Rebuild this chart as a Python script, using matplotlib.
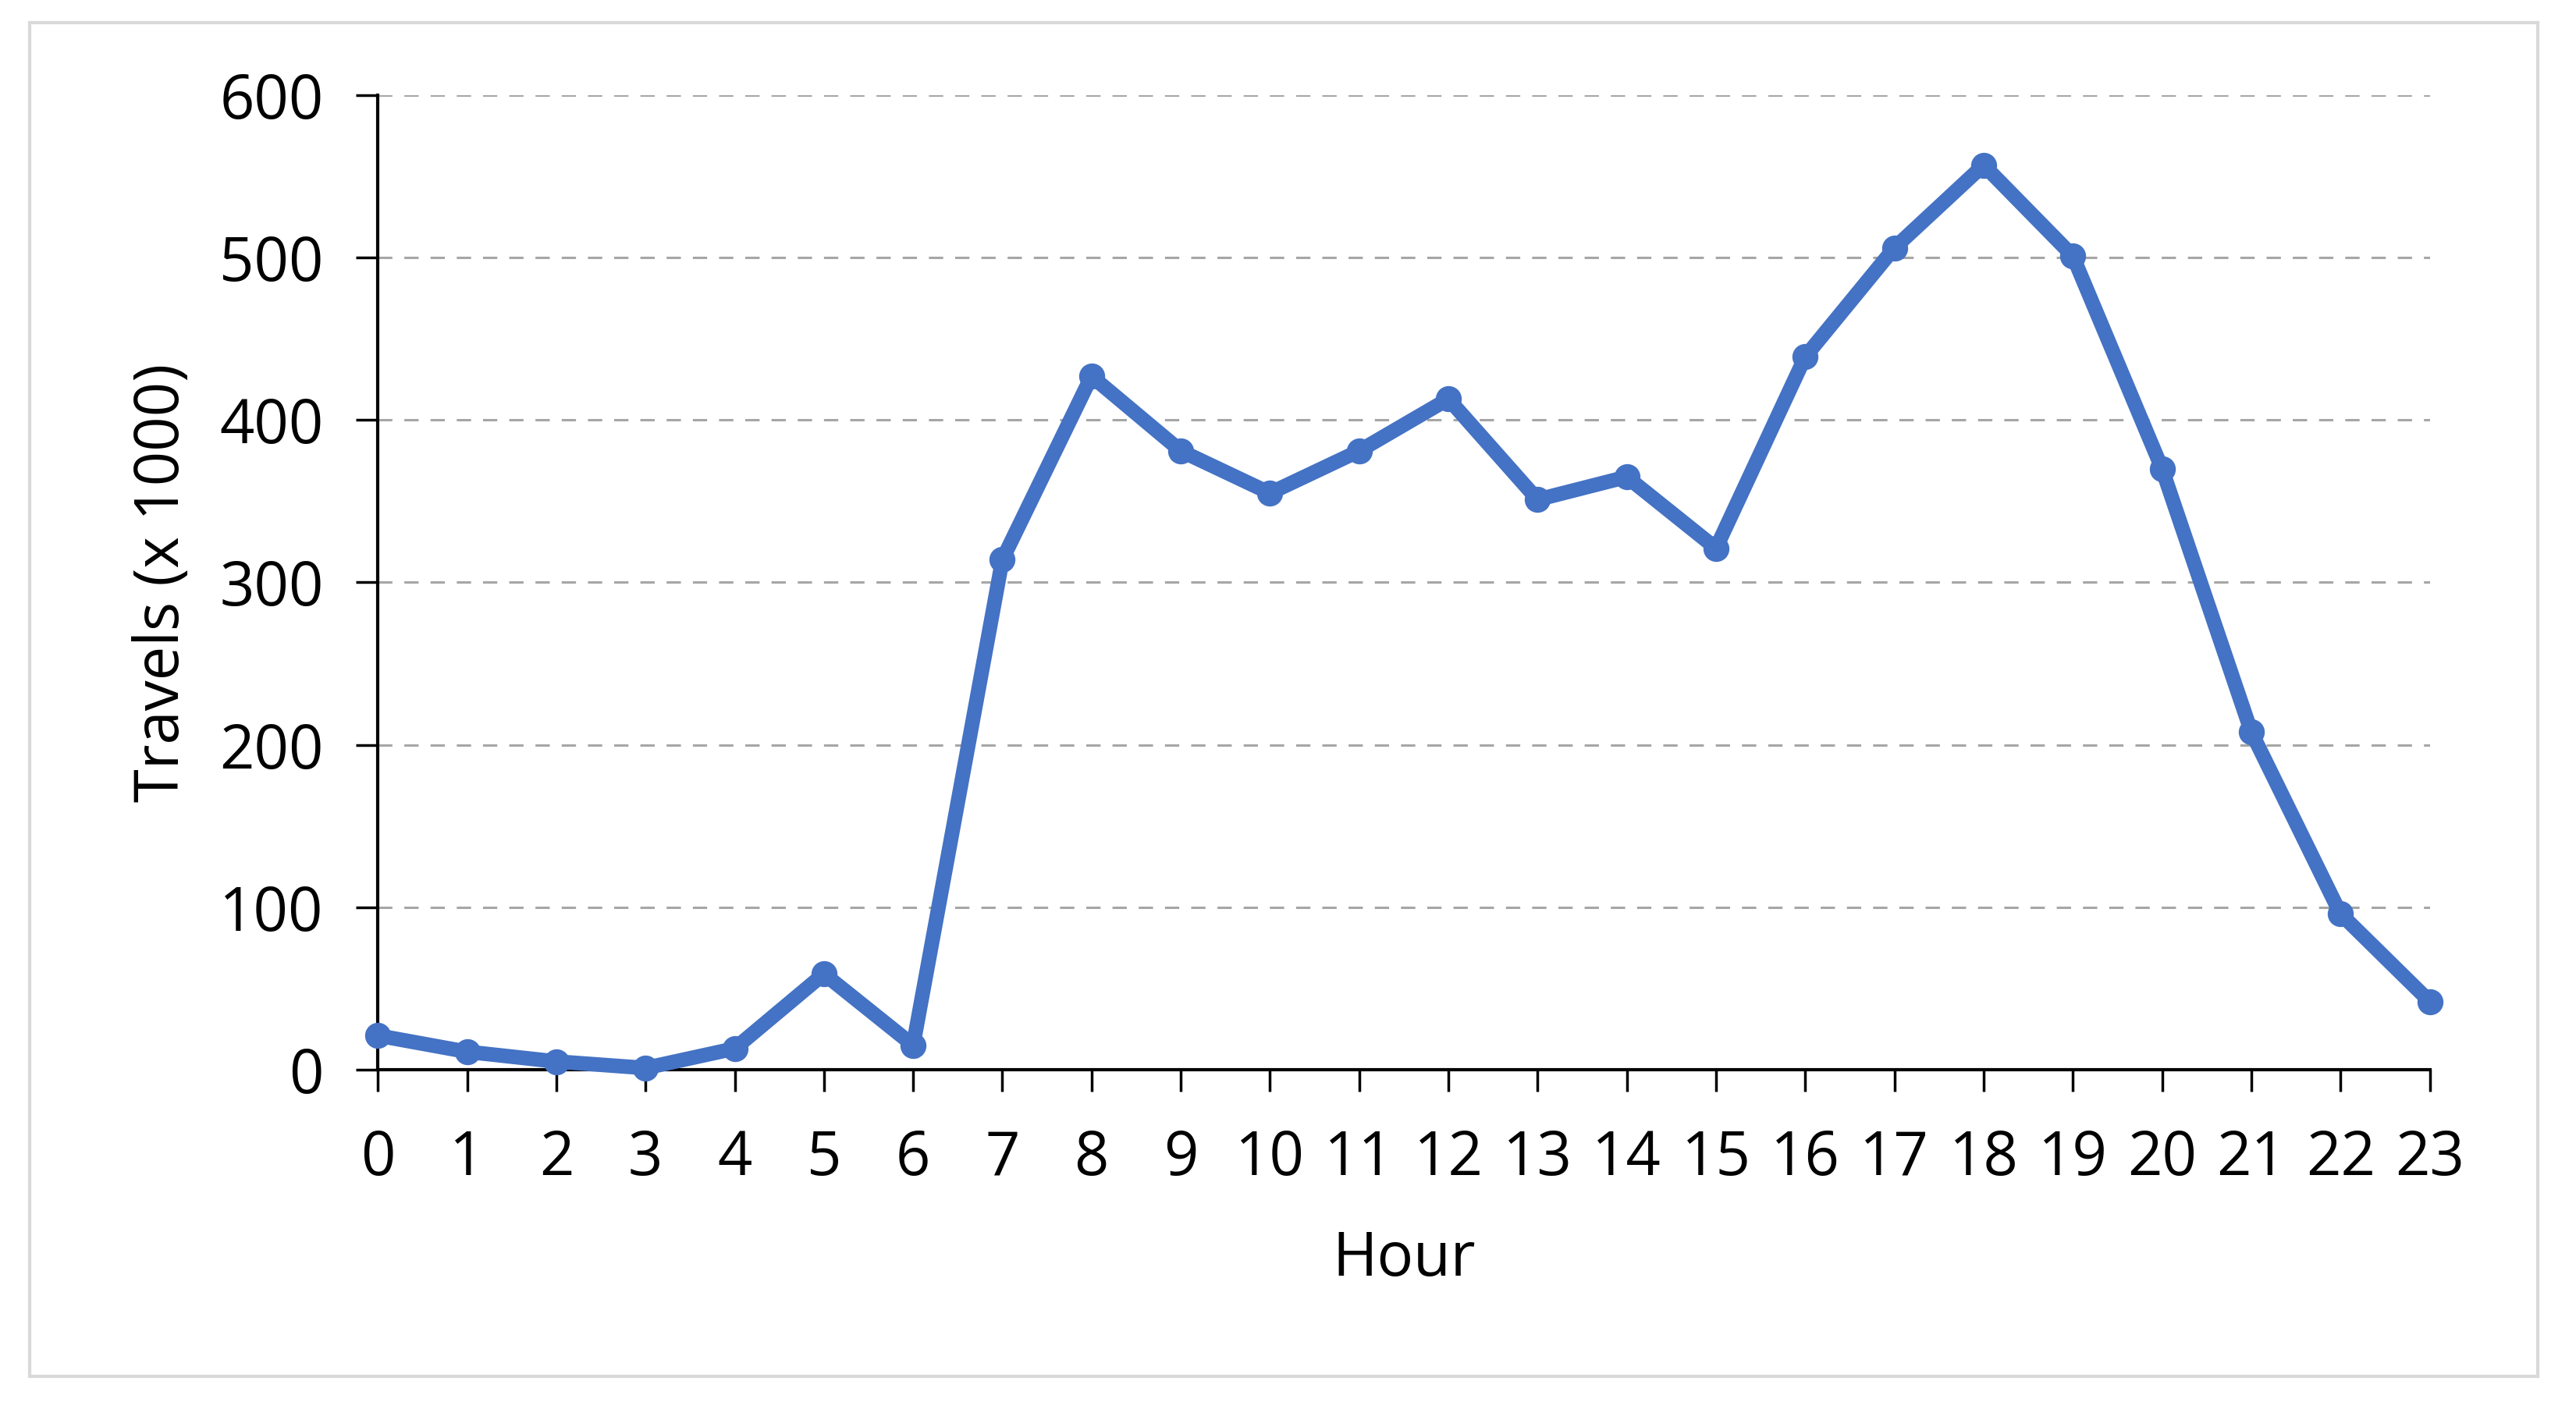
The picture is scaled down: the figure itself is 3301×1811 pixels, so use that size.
import numpy as np
import matplotlib
matplotlib.use("Agg")
import matplotlib.pyplot as plt
from matplotlib.patches import Rectangle

# Data
hours = list(range(24))
travels = [21, 11, 5, 1, 13, 59, 15, 314, 427, 381, 355, 381, 413, 351,
           365, 321, 439, 506, 557, 501, 370, 208, 96, 42]
y_ticks = [0, 100, 200, 300, 400, 500, 600]

plt.rcParams['font.family'] = ['Open Sans', 'DejaVu Sans']

fig = plt.figure(figsize=(33.01, 18.11), dpi=100)
ax = fig.add_axes([0.1467, 0.243, 0.7965, 0.6896])

# outer frame round the whole chart
fig.patches.append(Rectangle((0.0115, 0.026), 0.9737, 0.958, transform=fig.transFigure,
                             fill=False, edgecolor='#D9D9D9', linewidth=3, zorder=0))

ax.plot(hours, travels, color='#4472C4', linewidth=13.5, marker='o',
        markersize=23, solid_joinstyle='miter', clip_on=False, zorder=3)

ax.set_xlim(0, 23)
ax.set_ylim(0, 600)
ax.set_xticks(hours)
ax.set_yticks(y_ticks)

for v in y_ticks[1:]:
    ax.axhline(v, color='#A6A6A6', linewidth=2.2, linestyle=(0, (6, 5)), zorder=1)

for side in ['top', 'right']:
    ax.spines[side].set_visible(False)
for side in ['left', 'bottom']:
    ax.spines[side].set_linewidth(3)
    ax.spines[side].set_color('black')

ax.tick_params(axis='x', direction='out', length=20, width=2.5, pad=34,
               labelsize=56, colors='black')
ax.tick_params(axis='y', direction='out', length=20, width=2.5, pad=30,
               labelsize=56, colors='black')

ax.set_xlabel("Hour", fontsize=56, labelpad=36)
ax.set_ylabel("Travels (x 1000)", fontsize=56, labelpad=24)

fig.savefig("out.png", dpi=100, facecolor='white')
